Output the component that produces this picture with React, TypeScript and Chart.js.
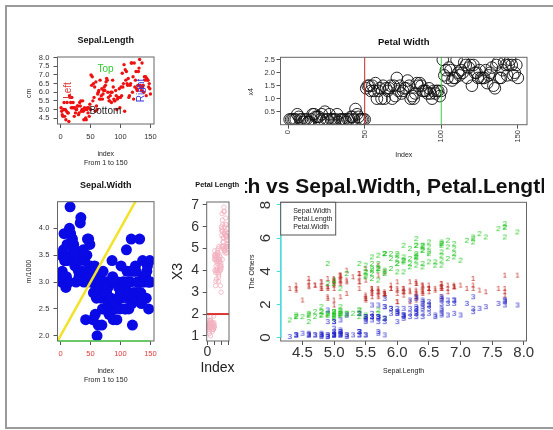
import React, { useEffect, useRef } from 'react';
import { Chart, registerables } from 'chart.js';

Chart.register(...registerables);

const FONT = "'Liberation Sans', Arial, Helvetica, sans-serif";
const W = 553;
const H = 430;
const AX = 40;

// ---------- data (iris) ----------
const INDEX = Array.from({ length: 150 }, (_, i) => i + 1);

const SEPAL_LENGTH = [
  5.1, 4.9, 4.7, 4.6, 5.0, 5.4, 4.6, 5.0, 4.4, 4.9, 5.4, 4.8, 4.8, 4.3, 5.8, 5.7, 5.4, 5.1, 5.7, 5.1, 5.4, 5.1, 4.6, 5.1, 4.8,
  5.0, 5.0, 5.2, 5.2, 4.7, 4.8, 5.4, 5.2, 5.5, 4.9, 5.0, 5.5, 4.9, 4.4, 5.1, 5.0, 4.5, 4.4, 5.0, 5.1, 4.8, 5.1, 4.6, 5.3, 5.0,
  7.0, 6.4, 6.9, 5.5, 6.5, 5.7, 6.3, 4.9, 6.6, 5.2, 5.0, 5.9, 6.0, 6.1, 5.6, 6.7, 5.6, 5.8, 6.2, 5.6, 5.9, 6.1, 6.3, 6.1, 6.4,
  6.6, 6.8, 6.7, 6.0, 5.7, 5.5, 5.5, 5.8, 6.0, 5.4, 6.0, 6.7, 6.3, 5.6, 5.5, 5.5, 6.1, 5.8, 5.0, 5.6, 5.7, 5.7, 6.2, 5.1, 5.7,
  6.3, 5.8, 7.1, 6.3, 6.5, 7.6, 4.9, 7.3, 6.7, 7.2, 6.5, 6.4, 6.8, 5.7, 5.8, 6.4, 6.5, 7.7, 7.7, 6.0, 6.9, 5.6, 7.7, 6.3, 6.7,
  7.2, 6.2, 6.1, 6.4, 7.2, 7.4, 7.9, 6.4, 6.3, 6.1, 7.7, 6.3, 6.4, 6.0, 6.9, 6.7, 6.9, 5.8, 6.8, 6.7, 6.7, 6.3, 6.5, 6.2, 5.9,
];

const SEPAL_WIDTH = [
  3.5, 3.0, 3.2, 3.1, 3.6, 3.9, 3.4, 3.4, 2.9, 3.1, 3.7, 3.4, 3.0, 3.0, 4.0, 4.4, 3.9, 3.5, 3.8, 3.8, 3.4, 3.7, 3.6, 3.3, 3.4,
  3.0, 3.4, 3.5, 3.4, 3.2, 3.1, 3.4, 4.1, 4.2, 3.1, 3.2, 3.5, 3.6, 3.0, 3.4, 3.5, 2.3, 3.2, 3.5, 3.8, 3.0, 3.8, 3.2, 3.7, 3.3,
  3.2, 3.2, 3.1, 2.3, 2.8, 2.8, 3.3, 2.4, 2.9, 2.7, 2.0, 3.0, 2.2, 2.9, 2.9, 3.1, 3.0, 2.7, 2.2, 2.5, 3.2, 2.8, 2.5, 2.8, 2.9,
  3.0, 2.8, 3.0, 2.9, 2.6, 2.4, 2.4, 2.7, 2.7, 3.0, 3.4, 3.1, 2.3, 3.0, 2.5, 2.6, 3.0, 2.6, 2.3, 2.7, 3.0, 2.9, 2.9, 2.5, 2.8,
  3.3, 2.7, 3.0, 2.9, 3.0, 3.0, 2.5, 2.9, 2.5, 3.6, 3.2, 2.7, 3.0, 2.5, 2.8, 3.2, 3.0, 3.8, 2.6, 2.2, 3.2, 2.8, 2.8, 2.7, 3.3,
  3.2, 2.8, 3.0, 2.8, 3.0, 2.8, 3.8, 2.8, 2.8, 2.6, 3.0, 3.4, 3.1, 3.0, 3.1, 3.1, 3.1, 2.7, 3.2, 3.3, 3.0, 2.5, 3.0, 3.4, 3.0,
];

const PETAL_LENGTH = [
  1.4, 1.4, 1.3, 1.5, 1.4, 1.7, 1.4, 1.5, 1.4, 1.5, 1.5, 1.6, 1.4, 1.1, 1.2, 1.5, 1.3, 1.4, 1.7, 1.5, 1.7, 1.5, 1.0, 1.7, 1.9,
  1.6, 1.6, 1.5, 1.4, 1.6, 1.6, 1.5, 1.5, 1.4, 1.5, 1.2, 1.3, 1.4, 1.3, 1.5, 1.3, 1.3, 1.3, 1.6, 1.9, 1.4, 1.6, 1.4, 1.5, 1.4,
  4.7, 4.5, 4.9, 4.0, 4.6, 4.5, 4.7, 3.3, 4.6, 3.9, 3.5, 4.2, 4.0, 4.7, 3.6, 4.4, 4.5, 4.1, 4.5, 3.9, 4.8, 4.0, 4.9, 4.7, 4.3,
  4.4, 4.8, 5.0, 4.5, 3.5, 3.8, 3.7, 3.9, 5.1, 4.5, 4.5, 4.7, 4.4, 4.1, 4.0, 4.4, 4.6, 4.0, 3.3, 4.2, 4.2, 4.2, 4.3, 3.0, 4.1,
  6.0, 5.1, 5.9, 5.6, 5.8, 6.6, 4.5, 6.3, 5.8, 6.1, 5.1, 5.3, 5.5, 5.0, 5.1, 5.3, 5.5, 6.7, 6.9, 5.0, 5.7, 4.9, 6.7, 4.9, 5.7,
  6.0, 4.8, 4.9, 5.6, 5.8, 6.1, 6.4, 5.6, 5.1, 5.6, 6.1, 5.6, 5.5, 4.8, 5.4, 5.6, 5.1, 5.1, 5.9, 5.7, 5.2, 5.0, 5.2, 5.4, 5.1,
];

const PETAL_WIDTH = [
  0.2, 0.2, 0.2, 0.2, 0.2, 0.4, 0.3, 0.2, 0.2, 0.1, 0.2, 0.2, 0.1, 0.1, 0.2, 0.4, 0.4, 0.3, 0.3, 0.3, 0.2, 0.4, 0.2, 0.5, 0.2,
  0.2, 0.4, 0.2, 0.2, 0.2, 0.2, 0.4, 0.1, 0.2, 0.2, 0.2, 0.2, 0.1, 0.2, 0.2, 0.3, 0.3, 0.2, 0.6, 0.4, 0.3, 0.2, 0.2, 0.2, 0.2,
  1.4, 1.5, 1.5, 1.3, 1.5, 1.3, 1.6, 1.0, 1.3, 1.4, 1.0, 1.5, 1.0, 1.4, 1.3, 1.4, 1.5, 1.0, 1.5, 1.1, 1.8, 1.3, 1.5, 1.2, 1.3,
  1.4, 1.4, 1.7, 1.5, 1.0, 1.1, 1.0, 1.2, 1.6, 1.5, 1.6, 1.5, 1.3, 1.3, 1.3, 1.2, 1.4, 1.2, 1.0, 1.3, 1.2, 1.3, 1.3, 1.1, 1.3,
  2.5, 1.9, 2.1, 1.8, 2.2, 2.1, 1.7, 1.8, 1.8, 2.5, 2.0, 1.9, 2.1, 2.0, 2.4, 2.3, 1.8, 2.2, 2.3, 1.5, 2.3, 2.0, 2.0, 1.8, 2.1,
  1.8, 1.8, 1.8, 2.1, 1.6, 1.9, 2.0, 2.2, 1.5, 1.4, 2.3, 2.4, 1.8, 1.8, 2.1, 2.4, 2.3, 1.9, 2.3, 2.5, 2.3, 1.9, 2.0, 2.3, 1.8,
];

// tick values
const INDEX_TICKS = [0, 50, 100, 150];
const SL_TICKS = [4.5, 5.0, 5.5, 6.0, 6.5, 7.0, 7.5, 8.0];
const PW_TICKS = [0.5, 1.0, 1.5, 2.0, 2.5];
const SW_TICKS = [2.0, 2.5, 3.0, 3.5, 4.0];
const PL_TICKS = [1, 2, 3, 4, 5, 6, 7];
const OTHERS_TICKS = [0, 2, 4, 6, 8];

// annotations / reference lines
const MATPLOT_SERIES = ['Sepal.Width', 'Petal.Length', 'Petal.Width'];
const MATPLOT_SYMBOLS = ['1', '2', '3'];
const P1_NOTES = [
  { text: 'Top', x: 75, y: 7.35, color: '#33cc33', vertical: false },
  { text: 'Bottom', x: 75, y: 4.9, color: '#222222', vertical: false },
  { text: 'Left', x: 13, y: 6.1, color: '#dd3333', vertical: true },
  { text: 'Right', x: 134, y: 6.1, color: '#3333dd', vertical: true },
];
const PW_VLINES = [
  { x: 50, color: '#c62828' },
  { x: 100, color: '#3ccc3c' },
];
const ABLINE = { a: 2, b: 0.02 };
const PL_HLINE = 2;

// axis ranges (R's 4% extension)
const INDEX_MIN = -4.96;
const INDEX_MAX = 155.96;

type Box = { L: number; R: number; T: number; B: number };
const BOX1: Box = { L: 57.5, R: 154, T: 57, B: 124 };
const BOX2: Box = { L: 280.5, R: 527, T: 57.3, B: 124.7 };
const BOX3: Box = { L: 57.5, R: 154, T: 201.7, B: 341 };
const BOX4: Box = { L: 206.7, R: 229, T: 202, B: 341 };
const BOX5: Box = { L: 280.7, R: 526.5, T: 202.3, B: 341 };

function layoutPadding(b: Box) {
  return { left: b.L - AX, right: W - b.R, top: b.T, bottom: H - b.B - AX };
}

interface AxisOpts {
  axis: 'x' | 'y';
  min: number;
  max: number;
  ticks: number[];
  fmt?: (v: number) => string;
  size: number;
  padding: number;
  color?: string;
  rotate?: number;
  crossAlign?: 'near' | 'center' | 'far';
  tickColor?: string;
}

function makeAxis(o: AxisOpts): any {
  return {
    type: 'linear',
    position: o.axis === 'x' ? 'bottom' : 'left',
    min: o.min,
    max: o.max,
    bounds: 'data',
    afterBuildTicks: (s: any) => {
      s.ticks = o.ticks.map((v) => ({ value: v }));
    },
    afterFit: (s: any) => {
      if (o.axis === 'x') s.height = AX;
      else s.width = AX;
    },
    grid: {
      display: true,
      drawOnChartArea: false,
      drawTicks: true,
      tickLength: 4,
      tickWidth: 1,
      tickColor: o.tickColor ?? '#555',
      color: o.tickColor ?? '#555',
      lineWidth: 1,
    },
    border: { display: false },
    ticks: {
      autoSkip: false,
      padding: o.padding,
      color: o.color ?? '#333',
      font: { family: FONT, size: o.size, lineHeight: 1 },
      minRotation: o.rotate ?? 0,
      maxRotation: o.rotate ?? 0,
      crossAlign: o.crossAlign ?? 'near',
      callback: (v: any) => (o.fmt ? o.fmt(Number(v)) : String(v)),
    },
  };
}

function text(
  ctx: CanvasRenderingContext2D,
  s: string,
  x: number,
  y: number,
  o: { size: number; bold?: boolean; color?: string; align?: CanvasTextAlign; rot?: number; baseline?: CanvasTextBaseline }
) {
  ctx.save();
  ctx.translate(x, y);
  if (o.rot) ctx.rotate(o.rot);
  ctx.font = `${o.bold ? 'bold ' : ''}${o.size}px ${FONT}`;
  ctx.fillStyle = o.color ?? '#222';
  ctx.textAlign = o.align ?? 'center';
  ctx.textBaseline = o.baseline ?? 'middle';
  ctx.fillText(s, 0, 0);
  ctx.restore();
}

function drawBox(chart: any) {
  const { ctx, chartArea: a } = chart;
  ctx.save();
  ctx.strokeStyle = '#666';
  ctx.lineWidth = 1;
  ctx.strokeRect(a.left, a.top, a.right - a.left, a.bottom - a.top);
  ctx.restore();
}

function line(ctx: CanvasRenderingContext2D, x1: number, y1: number, x2: number, y2: number, color: string, width: number) {
  ctx.save();
  ctx.strokeStyle = color;
  ctx.lineWidth = width;
  ctx.beginPath();
  ctx.moveTo(x1, y1);
  ctx.lineTo(x2, y2);
  ctx.stroke();
  ctx.restore();
}

function baseOptions(box: Box, scales: any): any {
  return {
    responsive: false,
    animation: false,
    events: [],
    layout: { padding: layoutPadding(box) },
    plugins: { legend: { display: false }, tooltip: { enabled: false }, title: { display: false } },
    scales,
  };
}

const indexAxis = (extra: Partial<AxisOpts>) =>
  makeAxis({ axis: 'x', min: INDEX_MIN, max: INDEX_MAX, ticks: INDEX_TICKS, size: 7.5, padding: 5.25, ...extra });

function glyph(ch: string, color: string) {
  const c = document.createElement('canvas');
  c.width = 10;
  c.height = 12;
  const g = c.getContext('2d')!;
  g.font = `8px ${FONT}`;
  g.fillStyle = color;
  g.textAlign = 'center';
  g.textBaseline = 'middle';
  g.fillText(ch, 5, 6.5);
  return c;
}

// ---------- panels ----------
function panel1(cv: HTMLCanvasElement) {
  return new Chart(cv, {
    type: 'scatter',
    data: {
      datasets: [
        {
          data: INDEX.map((x, i) => ({ x, y: SEPAL_LENGTH[i] })),
          pointRadius: 1.7,
          pointBackgroundColor: '#ee1111',
          pointBorderColor: '#ee1111',
          pointBorderWidth: 0,
          clip: 0,
        } as any,
      ],
    },
    options: baseOptions(BOX1, {
      x: indexAxis({}),
      y: makeAxis({ axis: 'y', min: 4.156, max: 8.044, ticks: SL_TICKS, fmt: (v) => v.toFixed(1), size: 7.5, padding: 4.2 }),
    }),
    plugins: [
      {
        id: 'p1',
        afterDraw(chart: any) {
          const { ctx, scales } = chart;
          drawBox(chart);
          P1_NOTES.forEach((n) =>
            text(ctx, n.text, scales.x.getPixelForValue(n.x), scales.y.getPixelForValue(n.y), {
              size: 10,
              color: n.color,
              rot: n.vertical ? -Math.PI / 2 : 0,
            })
          );
          text(ctx, 'Sepal.Length', 105.75, 40.7, { size: 9, bold: true, color: '#111' });
          text(ctx, 'index', 105.75, 154.2, { size: 7 });
          text(ctx, 'From 1 to 150', 105.75, 163.2, { size: 7 });
          text(ctx, 'cm', 29.5, 93.3, { size: 7, rot: -Math.PI / 2 });
        },
      },
    ],
  });
}

function panel2(cv: HTMLCanvasElement) {
  return new Chart(cv, {
    type: 'scatter',
    data: {
      datasets: [
        {
          data: INDEX.map((x, i) => ({ x, y: PETAL_WIDTH[i] })),
          pointRadius: 5.8,
          pointBackgroundColor: 'rgba(0,0,0,0)',
          pointBorderColor: '#111',
          pointBorderWidth: 0.9,
          clip: 0,
        } as any,
      ],
    },
    options: baseOptions(BOX2, {
      x: indexAxis({ rotate: 90, padding: 1.3 }),
      y: makeAxis({ axis: 'y', min: -0.004, max: 2.596, ticks: PW_TICKS, fmt: (v) => v.toFixed(1), size: 7.5, padding: 1.5 }),
    }),
    plugins: [
      {
        id: 'p2',
        afterDraw(chart: any) {
          const { ctx, scales, chartArea: a } = chart;
          PW_VLINES.forEach((l) => {
            const px = scales.x.getPixelForValue(l.x);
            line(ctx, px, a.top, px, a.bottom, l.color, 1);
          });
          drawBox(chart);
          text(ctx, 'Petal Width', (a.left + a.right) / 2, 42, { size: 9.5, bold: true, color: '#111' });
          text(ctx, 'Index', (a.left + a.right) / 2, 155, { size: 7 });
          text(ctx, 'x4', 251.5, 91.7, { size: 7, rot: -Math.PI / 2 });
        },
      },
    ],
  });
}

function panel3(cv: HTMLCanvasElement) {
  return new Chart(cv, {
    type: 'scatter',
    data: {
      datasets: [
        {
          data: INDEX.map((x, i) => ({ x, y: SEPAL_WIDTH[i] })),
          pointRadius: 5.5,
          pointBackgroundColor: '#0a0ae6',
          pointBorderColor: '#0a0ae6',
          pointBorderWidth: 0,
          clip: 0,
        } as any,
      ],
    },
    options: baseOptions(BOX3, {
      x: indexAxis({ color: '#e03a3a' }),
      y: makeAxis({ axis: 'y', min: 1.904, max: 4.496, ticks: SW_TICKS, fmt: (v) => v.toFixed(1), size: 7.5, padding: 4.2 }),
    }),
    plugins: [
      {
        id: 'p3',
        afterDraw(chart: any) {
          const { ctx, scales, chartArea: a } = chart;
          // abline(a, b)
          ctx.save();
          ctx.beginPath();
          ctx.rect(a.left, a.top, a.right - a.left, a.bottom - a.top);
          ctx.clip();
          const x0 = scales.x.min;
          const x1 = scales.x.max;
          line(
            ctx,
            scales.x.getPixelForValue(x0),
            scales.y.getPixelForValue(ABLINE.a + ABLINE.b * x0),
            scales.x.getPixelForValue(x1),
            scales.y.getPixelForValue(ABLINE.a + ABLINE.b * x1),
            '#f2e22a',
            2.5
          );
          ctx.restore();
          drawBox(chart);
          line(
            ctx,
            scales.x.getPixelForValue(INDEX_TICKS[0]) - 2,
            a.bottom,
            scales.x.getPixelForValue(INDEX_TICKS[INDEX_TICKS.length - 1]),
            a.bottom,
            '#55d055',
            1.5
          );
          text(ctx, 'Sepal.Width', (a.left + a.right) / 2, 185.8, { size: 9, bold: true, color: '#111' });
          text(ctx, 'index', (a.left + a.right) / 2, 371, { size: 7 });
          text(ctx, 'From 1 to 150', (a.left + a.right) / 2, 379.8, { size: 7 });
          text(ctx, 'm/1000', 29.5, 271.5, { size: 7, rot: -Math.PI / 2 });
        },
      },
    ],
  });
}

function panel4(cv: HTMLCanvasElement) {
  return new Chart(cv, {
    type: 'scatter',
    data: {
      datasets: [
        {
          data: INDEX.map((x, i) => ({ x, y: PETAL_LENGTH[i] })),
          pointRadius: 2.2,
          pointBackgroundColor: 'rgba(0,0,0,0)',
          pointBorderColor: '#f3b3c0',
          pointBorderWidth: 0.8,
          clip: 0,
        } as any,
      ],
    },
    options: baseOptions(BOX4, {
      x: indexAxis({ size: 14, padding: -0.3, fmt: (v) => (v === 0 ? '0' : '') }),
      y: makeAxis({ axis: 'y', min: 0.764, max: 7.136, ticks: PL_TICKS, fmt: (v) => String(v), size: 14, padding: 3.7 }),
    }),
    plugins: [
      {
        id: 'p4',
        afterDraw(chart: any) {
          const { ctx, scales, chartArea: a } = chart;
          const py = scales.y.getPixelForValue(PL_HLINE);
          line(ctx, a.left, py, a.right, py, '#dd3333', 2);
          drawBox(chart);
          text(ctx, 'Petal Length', 217.2, 185.3, { size: 7.3, bold: true, color: '#111' });
          text(ctx, 'Index', 217.5, 368.5, { size: 14 });
          text(ctx, 'X3', 178, 271.5, { size: 14, rot: -Math.PI / 2 });
        },
      },
    ],
  });
}

function panel5(cv: HTMLCanvasElement) {
  const colors = ['#bf2b24', '#22c422', '#2424c8'];
  const series = [SEPAL_WIDTH, PETAL_LENGTH, PETAL_WIDTH];
  return new Chart(cv, {
    type: 'scatter',
    data: {
      datasets: series.map(
        (s, k) =>
          ({
            label: MATPLOT_SERIES[k],
            data: SEPAL_LENGTH.map((x, i) => ({ x, y: s[i] })),
            pointStyle: glyph(MATPLOT_SYMBOLS[k], colors[k]),
            pointRadius: 4,
            order: 2 - k,
            clip: 0,
          } as any)
      ),
    },
    options: baseOptions(BOX5, {
      x: makeAxis({ axis: 'x', min: 4.156, max: 8.044, ticks: SL_TICKS, fmt: (v) => v.toFixed(1), size: 15, padding: 0.5 }),
      y: makeAxis({
        axis: 'y',
        min: -0.2,
        max: 8.16,
        ticks: OTHERS_TICKS,
        fmt: (v) => String(v),
        size: 15,
        padding: 6.8,
        rotate: 90,
        crossAlign: 'center',
        tickColor: '#44dede',
      }),
    }),
    plugins: [
      {
        id: 'p5',
        afterDraw(chart: any) {
          const { ctx, scales, chartArea: a } = chart;
          drawBox(chart);
          line(
            ctx,
            a.left,
            scales.y.getPixelForValue(OTHERS_TICKS[0]),
            a.left,
            scales.y.getPixelForValue(OTHERS_TICKS[OTHERS_TICKS.length - 1]),
            '#44dede',
            1.5
          );
          // legend
          ctx.save();
          ctx.fillStyle = '#fff';
          ctx.fillRect(a.left, a.top, 55, 32.7);
          ctx.strokeStyle = '#555';
          ctx.lineWidth = 1;
          ctx.strokeRect(a.left, a.top, 55, 32.7);
          ctx.restore();
          MATPLOT_SERIES.forEach((s, i) =>
            text(ctx, s, a.left + 12.5, a.top + 8.4 + i * 8.3, { size: 7, align: 'left', color: '#222' })
          );
          // clipped main title
          ctx.save();
          ctx.beginPath();
          ctx.rect(245, 165, 299, 35);
          ctx.clip();
          text(ctx, 'Sepal.Length vs Sepal.Width, Petal.Length, Petal.Width', (a.left + a.right) / 2, 192.5, {
            size: 21,
            bold: true,
            color: '#111',
            baseline: 'alphabetic',
          });
          ctx.restore();
          text(ctx, 'Sepal.Length', (a.left + a.right) / 2, 371.3, { size: 7 });
          text(ctx, 'The Others', 252, 272, { size: 7, rot: -Math.PI / 2 });
        },
      },
    ],
  });
}

export default function App() {
  const r1 = useRef<HTMLCanvasElement>(null);
  const r2 = useRef<HTMLCanvasElement>(null);
  const r3 = useRef<HTMLCanvasElement>(null);
  const r4 = useRef<HTMLCanvasElement>(null);
  const r5 = useRef<HTMLCanvasElement>(null);

  useEffect(() => {
    const charts = [panel1(r1.current!), panel2(r2.current!), panel3(r3.current!), panel4(r4.current!), panel5(r5.current!)];
    return () => charts.forEach((c) => c.destroy());
  }, []);

  const cvStyle: React.CSSProperties = { position: 'absolute', left: 0, top: 0, width: W, height: H };
  return (
    <div style={{ position: 'fixed', left: 0, top: 0, width: W, height: H, background: '#fff', overflow: 'hidden' }}>
      <div
        style={{
          position: 'absolute',
          left: 5,
          top: 5,
          width: W,
          height: 420,
          borderTop: '2px solid #9a9a9a',
          borderLeft: '2px solid #9a9a9a',
          borderBottom: '2px solid #9a9a9a',
        }}
      />
      <canvas ref={r1} width={W} height={H} style={cvStyle} />
      <canvas ref={r2} width={W} height={H} style={cvStyle} />
      <canvas ref={r3} width={W} height={H} style={cvStyle} />
      <canvas ref={r4} width={W} height={H} style={cvStyle} />
      <canvas ref={r5} width={W} height={H} style={cvStyle} />
    </div>
  );
}
